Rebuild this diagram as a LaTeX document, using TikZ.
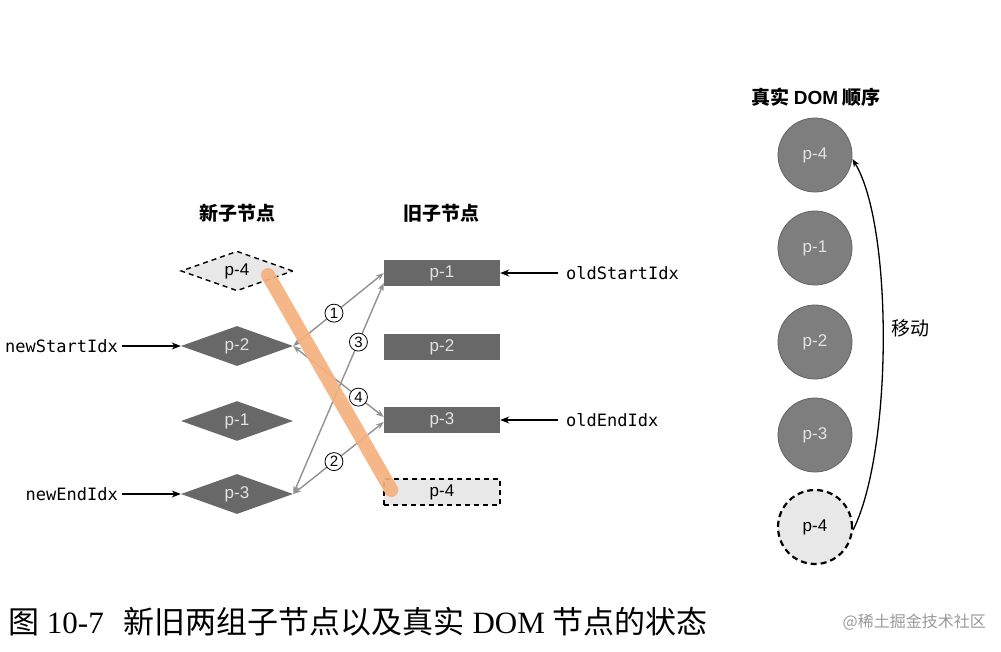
\documentclass[tikz,border=0pt]{standalone}
\usepackage{fontspec}
\setmainfont{Liberation Sans}
\newfontfamily\cjk{Noto Sans CJK SC}
\newfontfamily\mono{DejaVu Sans Mono}
\newfontfamily\serifcap{Liberation Serif}
\usetikzlibrary{shapes.geometric,arrows.meta}
\definecolor{dk}{RGB}{104,104,104}
\definecolor{cg}{RGB}{126,126,126}
\definecolor{cgb}{RGB}{100,100,100}
\definecolor{lt}{RGB}{232,232,232}
\definecolor{txtl}{RGB}{226,226,226}
\definecolor{ln}{RGB}{145,145,145}
\definecolor{org}{RGB}{244,176,126}
\tikzset{
  newnode/.style={diamond,fill=dk,minimum width=112pt,minimum height=34pt,inner sep=0pt,text=txtl,font=\fontsize{17}{17}\selectfont},
  newdash/.style={newnode,fill=lt,draw=black,dashed,line width=1.4pt,dash pattern=on 5pt off 4pt,text=black},
  oldnode/.style={rectangle,fill=dk,minimum width=116pt,minimum height=26pt,inner sep=0pt,text=txtl,font=\fontsize{17}{17}\selectfont},
  olddash/.style={oldnode,fill=lt,draw=black,line width=1.4pt,dash pattern=on 5pt off 4pt,text=black},
  domnode/.style={circle,fill=cg,draw=cgb,line width=0.8pt,minimum size=74pt,inner sep=0pt,text=txtl,font=\fontsize{17}{17}\selectfont},
  domdash/.style={domnode,fill=lt,draw=black,line width=2.2pt,dash pattern=on 6pt off 4pt,text=black},
  idx/.style={font=\mono\fontsize{17}{17}\selectfont,inner sep=0pt},
  head/.style={font=\cjk\bfseries\fontsize{19}{19}\selectfont,inner sep=0pt},
  cmp/.style={draw=ln,line width=1.4pt,{Stealth[length=8pt,width=6pt]}-{Stealth[length=8pt,width=6pt]}},
  numlab/.style={circle,draw=black,fill=white,line width=0.8pt,minimum size=18pt,inner sep=0pt,font=\fontsize{15}{15}\selectfont},
  ptr/.style={line width=1.3pt,-{Stealth[length=9pt,width=7pt]}}
}
\begin{document}
\begin{tikzpicture}[x=1pt,y=-1pt]
\useasboundingbox (0,0) rectangle (1001,651);
% headers
\node[head] (hnew) at (237,213) {\cjk 新子节点};
\node[head] (hold) at (441,213) {\cjk 旧子节点};
\node[head] (hdom) at (816,97) {\cjk 真实 \sffamily\bfseries\fontspec{Liberation Sans}DOM\cjk\bfseries{} 顺序};
% old children
\node[oldnode] (o1) at (442,273) {p-1};
\node[oldnode] (o2) at (442,347) {p-2};
\node[oldnode] (o3) at (442,420) {p-3};
\node[olddash] (o4) at (442,492) {p-4};
% new children
\node[newdash] (n4) at (237,271) {p-4};
\node[newnode] (n2) at (237,346) {p-2};
\node[newnode] (n1) at (237,421) {p-1};
\node[newnode] (n3) at (237,494) {p-3};
% comparison lines
\draw[cmp] (n2.east) -- (o1.west) node[numlab,pos=0.45] (l1) {1};
\draw[cmp] (n3.east) -- ([yshift=-10pt]o1.west) node[numlab,pos=0.72] (l3) {3};
\draw[cmp] (n2.east) -- ([yshift=3pt]o3.west) node[numlab,pos=0.72] (l4) {4};
\draw[cmp] (n3.east) -- ([yshift=-2pt]o3.west) node[numlab,pos=0.45] (l2) {2};
% orange move line
\coordinate (os) at ([xshift=31pt,yshift=-4pt]n4.center);
\coordinate (oe) at ([xshift=8pt,yshift=2pt]o4.west);
\draw[org,opacity=0.92,line width=14pt,line cap=round] (os) -- (oe);
% index pointers
\node[idx,anchor=east] (nsi) at (118,346) {newStartIdx};
\node[idx,anchor=east] (nei) at (118,494) {newEndIdx};
\node[idx,anchor=west] (osi) at (566,273) {oldStartIdx};
\node[idx,anchor=west] (oei) at (566,420) {oldEndIdx};
\draw[ptr] (nsi.east) ++(4pt,0) coordinate (a1) (a1) -- (n2.west);
\draw[ptr] (nei.east) ++(4pt,0) coordinate (a2) (a2) -- (n3.west);
\draw[ptr] (osi.west) ++(-8pt,0) coordinate (a3) (a3) -- (o1.east);
\draw[ptr] (oei.west) ++(-8pt,0) coordinate (a4) (a4) -- (o3.east);
% real DOM
\node[domnode] (d1) at (815,155) {p-4};
\node[domnode] (d2) at (815,248) {p-1};
\node[domnode] (d3) at (815,342) {p-2};
\node[domnode] (d4) at (815,435) {p-3};
\node[domdash] (d5) at (815,527) {p-4};
\draw[line width=1.3pt,-{Stealth[length=8pt,width=6pt]}] ([yshift=-3pt]d5.east) .. controls (893,450) and (893,225) .. ([yshift=-4pt]d1.east);
\node[font=\cjk\fontsize{19}{19}\selectfont,inner sep=0pt] (mv) at (910,328) {移动};
% caption
\node[anchor=west,inner sep=0pt,font=\fontsize{31}{31}\selectfont] (cap) at (8,622) {\cjk 图\serifcap{} 10-7\hspace{20pt}\cjk 新旧两组子节点以及真实\serifcap{} DOM \cjk 节点的状态};
\node[anchor=east,inner sep=0pt,text=gray!80,font=\cjk\fontsize{16}{16}\selectfont] (wm) at (986,622) {@稀土掘金技术社区};
\end{tikzpicture}
\end{document}
